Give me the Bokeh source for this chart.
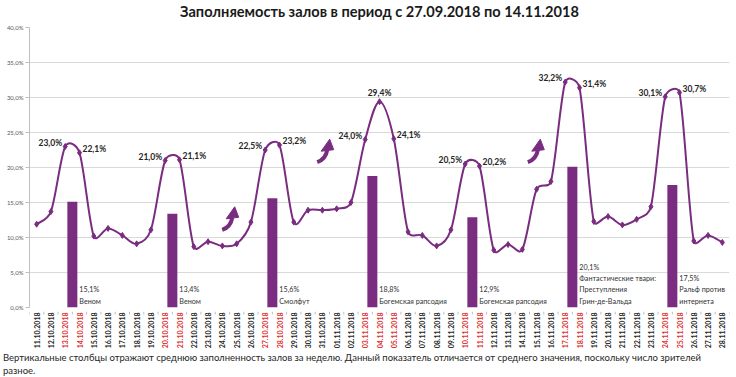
import numpy as np
from bokeh.plotting import figure
from bokeh.layouts import column
from bokeh.models import Range1d, FixedTicker, ColumnDataSource, LabelSet, Div
from bokeh.core.properties import value
from bokeh.embed import file_html
from bokeh.resources import INLINE

# ---------------- data ----------------
dates = [
    "11.10.2018", "12.10.2018", "13.10.2018", "14.10.2018", "15.10.2018", "16.10.2018", "17.10.2018",
    "18.10.2018", "19.10.2018", "20.10.2018", "21.10.2018", "22.10.2018", "23.10.2018", "24.10.2018",
    "25.10.2018", "26.10.2018", "27.10.2018", "28.10.2018", "29.10.2018", "30.10.2018", "31.10.2018",
    "01.11.2018", "02.11.2018", "03.11.2018", "04.11.2018", "05.11.2018", "06.11.2018", "07.11.2018",
    "08.11.2018", "09.11.2018", "10.11.2018", "11.11.2018", "12.11.2018", "13.11.2018", "14.11.2018",
    "15.11.2018", "16.11.2018", "17.11.2018", "18.11.2018", "19.11.2018", "20.11.2018", "21.11.2018",
    "22.11.2018", "23.11.2018", "24.11.2018", "25.11.2018", "26.11.2018", "27.11.2018", "28.11.2018",
]
occupancy = [
    11.9, 13.7, 23.0, 22.1, 10.2, 11.3, 10.3,
    9.1, 11.1, 21.0, 21.1, 8.7, 9.4, 8.8,
    9.1, 12.2, 22.5, 23.2, 12.2, 13.9, 13.9,
    14.1, 15.0, 24.0, 29.4, 24.1, 10.8, 10.3,
    8.8, 11.1, 20.5, 20.2, 8.2, 9.0, 8.3,
    16.9, 18.0, 32.2, 31.4, 12.3, 13.0, 11.8,
    12.6, 14.4, 30.1, 30.7, 9.5, 10.3, 9.3,
]
red_dates = ["13.10.2018", "14.10.2018", "20.10.2018", "21.10.2018", "27.10.2018", "28.10.2018",
             "03.11.2018", "04.11.2018", "05.11.2018", "10.11.2018", "11.11.2018", "17.11.2018",
             "18.11.2018", "24.11.2018", "25.11.2018"]
peak_dates = red_dates
peak_side = ["left", "right", "left", "right", "left", "right", "left", "above", "right",
             "left", "right", "left", "right", "left", "right"]

bar_dates = ["13.10.2018", "20.10.2018", "27.10.2018", "03.11.2018", "10.11.2018", "17.11.2018", "24.11.2018"]
bar_values = [15.1, 13.4, 15.6, 18.8, 12.9, 20.1, 17.5]
bar_titles = ["Веном", "Веном", "Смолфут", "Богемская рапсодия", "Богемская рапсодия",
              "Фантастические твари:\nПреступления\nГрин-де-Вальда", "Ральф против\nинтернета"]

y_ticks = [0, 5, 10, 15, 20, 25, 30, 35, 40]

title_text = "Заполняемость залов в период с 27.09.2018 по 14.11.2018"
caption_1 = ("Вертикальные столбцы отражают среднюю заполненность залов за неделю. Данный показатель "
             "отличается от среднего значения, поскольку число зрителей")
caption_2 = "разное."

# ---------------- layout constants ----------------
W, H = 736, 377
BL, BR, BT = 29, 7, 27          # frame left / right / top in page pixels
FRAME_H = 280
T_H = 23                        # title strip height
P_PAD = 4                       # small borders above/below main frame
Q_H = 38                        # date-label strip height
n = len(dates)
x0, x1 = -0.5, n - 0.5
y0, y1 = 0, 40
ppx = (W - BL - BR) / (x1 - x0)
ppy = FRAME_H / (y1 - y0)
P_H = P_PAD + FRAME_H + P_PAD
Q_TOP = T_H + P_H
D_H = H - Q_TOP - Q_H


def dx(px):  # page px -> data x
    return x0 + (px - BL) / ppx


def dy(py):  # page px -> data y of the main figure
    return y1 - (py - BT) / ppy


PURPLE = "#7a2c80"
FONT = "Lato"


def strip(height, top, bottom):
    f = figure(width=W, height=height, output_backend="svg", toolbar_location=None,
               x_range=Range1d(x0, x1), y_range=Range1d(bottom, top),
               x_axis_location=None, y_axis_location=None,
               min_border_left=BL, min_border_right=BR, min_border_top=0, min_border_bottom=0)
    f.outline_line_color = None
    f.grid.visible = False
    return f


# ---------------- title strip ----------------
t = strip(T_H, 0, T_H)
t.text(x=[(x0 + x1) / 2], y=[11], text=[title_text], text_align="center", text_baseline="middle",
       text_font=value(FONT), text_font_size="14.6px", text_font_style="bold", text_color="#1a1a1a")

# ---------------- main figure ----------------
p = figure(width=W, height=P_H, output_backend="svg", toolbar_location=None,
           x_range=Range1d(x0, x1), y_range=Range1d(y0, y1), x_axis_location=None,
           min_border_left=BL, min_border_right=BR, min_border_top=P_PAD, min_border_bottom=P_PAD)
p.outline_line_color = None
p.background_fill_color = "white"
p.xgrid.visible = False
p.ygrid.grid_line_color = "#d9d9d9"
p.ygrid.ticker = FixedTicker(ticks=y_ticks)

p.yaxis.ticker = FixedTicker(ticks=y_ticks)
p.yaxis.major_label_overrides = {t_: f"{t_:.1f}".replace(".", ",") + "%" for t_ in y_ticks}
p.yaxis.major_label_text_font = FONT
p.yaxis.major_label_text_font_size = "6px"
p.yaxis.major_label_text_color = "#595959"
p.yaxis.axis_line_color = "#bfbfbf"
p.yaxis.major_tick_line_color = "#bfbfbf"
p.yaxis.major_tick_out = 4
p.yaxis.major_tick_in = 0
p.yaxis.minor_tick_line_color = None
p.yaxis.major_label_standoff = 2

idx = {d: i for i, d in enumerate(dates)}

# bars
bar_x = [idx[d] + 0.5 for d in bar_dates]
p.vbar(x=bar_x, top=bar_values, width=0.7, fill_color=PURPLE, line_color=None)

bar_src = ColumnDataSource(dict(
    x=[bx + 0.35 for bx in bar_x],
    y=[0] * len(bar_x),
    text=[f"{v:.1f}".replace(".", ",") + "%\n" + tt for v, tt in zip(bar_values, bar_titles)],
))
p.add_layout(LabelSet(x="x", y="y", text="text", source=bar_src, x_offset=2, y_offset=2,
                      text_align="left", text_baseline="bottom", text_font=value(FONT),
                      text_font_size="7.2px", text_color="#333333", text_line_height=1.25))

# smooth line: cubic Bezier segments with Excel-like control points
xs = np.arange(n, dtype=float)
ys = np.array(occupancy, dtype=float)
PX, PY = xs * ppx, ys * ppy
a = np.arange(n - 1)
b = a + 1
pa = np.clip(a - 1, 0, n - 1)
nb = np.clip(b + 1, 0, n - 1)
d12 = np.hypot(PX[b] - PX[a], PY[b] - PY[a])
v1x, v1y = PX[b] - PX[pa], PY[b] - PY[pa]
d02 = np.hypot(v1x, v1y)
arm1 = np.minimum(d02 / 6, d12 / 2)
v2x, v2y = PX[nb] - PX[a], PY[nb] - PY[a]
d13 = np.hypot(v2x, v2y)
arm2 = np.minimum(d13 / 6, d12 / 2)
c0x = (PX[a] + v1x / d02 * arm1) / ppx
c0y = (PY[a] + v1y / d02 * arm1) / ppy
c1x = (PX[b] - v2x / d13 * arm2) / ppx
c1y = (PY[b] - v2y / d13 * arm2) / ppy
seg = ColumnDataSource(dict(x0=xs[a], y0=ys[a], x1=xs[b], y1=ys[b],
                            cx0=c0x, cy0=c0y, cx1=c1x, cy1=c1y))
p.bezier(x0="x0", y0="y0", x1="x1", y1="y1", cx0="cx0", cy0="cy0", cx1="cx1", cy1="cy1",
         source=seg, line_color=PURPLE, line_width=2)
p.scatter(xs, ys, marker="diamond", size=6, fill_color=PURPLE, line_color=PURPLE)

# peak labels
for side, align, xo, yo, base in [("left", "right", -3, 4, "middle"),
                                  ("right", "left", 3, 4, "middle"),
                                  ("above", "center", 0, 4, "bottom")]:
    sel = [d for d, s in zip(peak_dates, peak_side) if s == side]
    src = ColumnDataSource(dict(
        x=[idx[d] for d in sel],
        y=[occupancy[idx[d]] for d in sel],
        text=[f"{occupancy[idx[d]]:.1f}".replace(".", ",") + "%" for d in sel],
    ))
    p.add_layout(LabelSet(x="x", y="y", text="text", source=src, x_offset=xo, y_offset=yo,
                          text_align=align, text_baseline=base, text_font=value(FONT),
                          text_font_size="8.5px", text_font_style="bold", text_color="#262626"))

# decorative arrows
arrow_x = [dx(221.7), dx(316.7), dx(527.3)]
arrow_y = [dy(229.3), dy(161.7), dy(161.7)]
for ax, ay in zip(arrow_x, arrow_y):
    ox = lambda px: ax + px / ppx
    oy = lambda py: ay - py / ppy
    p.bezier(x0=[ox(0)], y0=[oy(0)], x1=[ox(10)], y1=[oy(-12)],
             cx0=[ox(6)], cy0=[oy(-2)], cx1=[ox(9)], cy1=[oy(-6)],
             line_color=PURPLE, line_width=4)
    p.patch([ox(4), ox(16.5), ox(12.5)], [oy(-11), oy(-12.5), oy(-23)],
            fill_color=PURPLE, line_color=PURPLE)

# ---------------- date-label strip ----------------
q = strip(Q_H, Q_TOP, Q_TOP + Q_H)
tick_x = [i + 0.5 for i in range(-1, n)]
q.segment(x0=tick_x, y0=[Q_TOP] * len(tick_x), x1=tick_x, y1=[Q_TOP + 3] * len(tick_x),
          line_color="#bfbfbf", line_width=1)
date_src = ColumnDataSource(dict(
    x=list(range(n)), y=[Q_TOP + 1] * n, text=dates,
    color=["#e0302f" if d in red_dates else "#262626" for d in dates],
))
q.text(x="x", y="y", text="text", source=date_src, angle=np.pi / 2,
       text_align="right", text_baseline="middle", text_font=value(FONT),
       text_font_size="7px", text_font_style="bold", text_color="color")

# ---------------- caption ----------------
cap = Div(text=(f"<div style='font-family:Lato, sans-serif;font-size:9.5px;line-height:13px;"
                f"color:#262626;margin:0;padding:{357 - Q_TOP - Q_H - 6.5}px 0 0 3px;"
                f"white-space:nowrap;'>{caption_1}<br>{caption_2}</div>"),
          width=W, height=D_H, margin=0)

layout = column(t, p, q, cap, spacing=0)
open("out.html", "w").write(file_html(layout, INLINE))
